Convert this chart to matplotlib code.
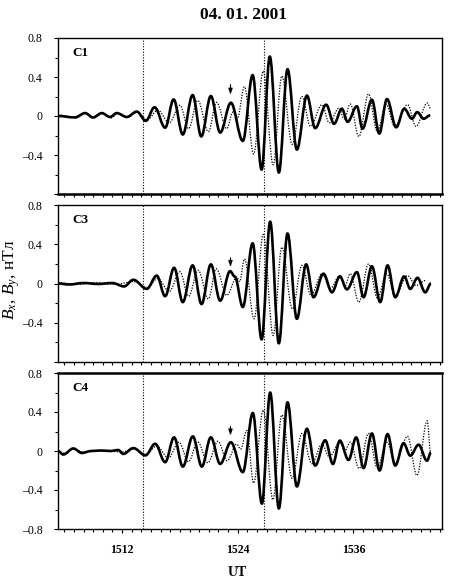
import numpy as np
import matplotlib
matplotlib.use("Agg")
import matplotlib.pyplot as plt
from matplotlib.path import Path
from matplotlib.patches import PathPatch

plt.rcParams['font.family'] = ['Liberation Serif', 'DejaVu Serif']
plt.rcParams['mathtext.fontset'] = 'custom'
plt.rcParams['mathtext.rm'] = 'Liberation Serif'
plt.rcParams['mathtext.it'] = 'Liberation Serif:italic'

# ---- data: turning points (UT as HHMM-style minutes, nT) ----
c1_t_x = [1505.35, 1507.12, 1508.16, 1508.99, 1509.89, 1510.75, 1511.45, 1512.49, 1513.53, 1514.46,
          1515.37, 1516.47, 1517.35, 1518.30, 1519.32, 1520.22, 1521.21, 1522.18, 1523.29, 1524.53,
          1525.55, 1526.48, 1527.33, 1528.27, 1529.17, 1530.14, 1531.18, 1532.04, 1533.18, 1534.00,
          1534.81, 1535.40, 1536.37, 1536.95, 1537.93, 1538.69, 1539.49, 1540.45, 1541.28, 1542.08,
          1542.63, 1543.29, 1543.98]
c1_bx = [0.00, -0.015, 0.03, -0.015, 0.03, -0.01, 0.03, -0.01, 0.045, -0.05,
         0.09, -0.12, 0.17, -0.19, 0.215, -0.21, 0.205, -0.17, 0.136, -0.256,
         0.42, -0.55, 0.61, -0.58, 0.48, -0.345, 0.21, -0.125, 0.116, -0.08,
         0.075, -0.06, 0.10, -0.13, 0.167, -0.18, 0.174, -0.116, 0.075, -0.028,
         0.04, -0.028, 0.007]
c1_t_y = [1505.35, 1507.0, 1508.1, 1509.0, 1510.0, 1510.8, 1511.6, 1512.5, 1513.6, 1514.6,
          1515.7, 1516.9, 1518.0, 1518.9, 1519.85, 1520.96, 1521.8, 1522.87, 1523.5, 1523.95,
          1524.7, 1525.65, 1526.65, 1527.68, 1528.58, 1529.65, 1530.66, 1531.55, 1532.74, 1533.5,
          1534.5, 1535.05, 1535.68, 1536.57, 1537.58, 1538.47, 1539.4, 1540.3, 1541.62, 1542.5,
          1543.67, 1544.0]
c1_by = [0.01, -0.01, 0.03, -0.02, 0.025, -0.02, 0.025, -0.015, 0.04, -0.04,
         0.06, -0.07, 0.11, -0.13, 0.16, -0.16, 0.14, -0.13, 0.04, -0.03,
         0.30, -0.39, 0.46, -0.50, 0.41, -0.29, 0.20, -0.105, 0.116, -0.07,
         0.08, -0.03, 0.123, -0.21, 0.226, -0.157, 0.12, -0.11, 0.116, -0.106,
         0.133, 0.08]

c3_t_x = [1505.35, 1506.5, 1508.0, 1509.5, 1511.0, 1512.2, 1513.17, 1514.56, 1515.6, 1516.47,
          1517.40, 1518.30, 1519.32, 1520.25, 1521.21, 1522.18, 1523.21, 1523.7, 1524.53, 1525.55,
          1526.48, 1527.37, 1528.27, 1529.17, 1530.14, 1531.10, 1531.87, 1532.90, 1533.78, 1534.60,
          1535.33, 1536.37, 1537.06, 1537.93, 1538.79, 1539.55, 1540.35, 1541.28, 1541.91, 1542.66,
          1543.46, 1544.06]
c3_bx = [0.0, -0.01, 0.005, -0.005, 0.005, -0.03, 0.038, -0.055, 0.08, -0.13,
         0.16, -0.19, 0.185, -0.21, 0.195, -0.175, 0.126, 0.07, -0.24, 0.41,
         -0.57, 0.63, -0.61, 0.51, -0.36, 0.195, -0.14, 0.10, -0.09, 0.072,
         -0.06, 0.116, -0.14, 0.175, -0.19, 0.185, -0.14, 0.072, -0.055, 0.058,
         -0.09, 0.0]
c3_t_y = [1505.35, 1507.3, 1509.3, 1511.3, 1513.2, 1514.6, 1515.7, 1516.9, 1518.0, 1518.9,
          1519.9, 1520.96, 1521.77, 1522.87, 1523.9, 1524.2, 1524.7, 1525.7, 1526.65, 1527.68,
          1528.58, 1529.68, 1530.66, 1531.6, 1532.74, 1533.6, 1534.6, 1535.1, 1535.68, 1536.57,
          1537.58, 1538.5, 1539.45, 1540.35, 1541.62, 1542.5, 1543.5]
c3_by = [0.01, -0.01, 0.01, -0.01, 0.02, -0.04, 0.05, -0.08, 0.12, -0.13,
         0.135, -0.157, 0.15, -0.12, 0.065, 0.02, 0.25, -0.36, 0.50, -0.53,
         0.37, -0.26, 0.185, -0.12, 0.10, -0.05, 0.08, -0.03, 0.10, -0.19,
         0.20, -0.15, 0.10, -0.12, 0.08, -0.02, 0.03]

c4_t_x = [1505.35, 1505.9, 1506.94, 1507.82, 1508.8, 1509.8, 1510.8, 1511.6, 1512.13, 1513.17,
          1514.43, 1515.43, 1516.47, 1517.40, 1518.30, 1519.34, 1520.28, 1521.21, 1522.18, 1523.29,
          1524.53, 1525.57, 1526.51, 1527.37, 1528.27, 1529.17, 1530.14, 1531.18, 1532.04, 1533.08,
          1533.88, 1534.60, 1535.50, 1536.30, 1537.06, 1537.93, 1538.72, 1539.55, 1540.35, 1541.21,
          1541.91, 1542.77, 1543.64, 1544.06]
c4_bx = [0.0, -0.036, 0.026, -0.02, 0.0, 0.005, 0.0, 0.01, -0.03, 0.03,
         -0.045, 0.074, -0.115, 0.14, -0.16, 0.15, -0.16, 0.14, -0.133, 0.09,
         -0.217, 0.39, -0.54, 0.60, -0.59, 0.50, -0.364, 0.228, -0.15, 0.11,
         -0.133, 0.107, -0.092, 0.14, -0.175, 0.18, -0.20, 0.174, -0.15, 0.08,
         -0.048, 0.065, -0.10, -0.014]
c4_t_y = [1505.35, 1506.0, 1507.0, 1508.0, 1510.0, 1512.0, 1513.2, 1514.5, 1515.6, 1516.8,
          1517.9, 1518.9, 1519.85, 1520.9, 1521.95, 1522.9, 1523.9, 1524.3, 1524.95, 1525.65,
          1526.65, 1527.65, 1528.58, 1529.65, 1530.66, 1531.7, 1532.74, 1533.5, 1534.6, 1535.1,
          1535.68, 1536.6, 1537.58, 1538.47, 1539.49, 1540.35, 1541.62, 1542.6, 1543.67, 1544.0]
c4_by = [-0.01, -0.02, 0.02, -0.01, 0.005, -0.01, 0.02, -0.03, 0.05, -0.07,
         0.09, -0.11, 0.094, -0.12, 0.10, -0.10, 0.07, 0.02, 0.21, -0.33,
         0.42, -0.50, 0.37, -0.28, 0.18, -0.13, 0.07, -0.06, 0.09, 0.0,
         0.09, -0.18, 0.18, -0.17, 0.09, -0.13, 0.15, -0.25, 0.31, 0.0]

sat_names = ["C1", "C3", "C4"]
t_bx = [c1_t_x, c3_t_x, c4_t_x]
bx = [c1_bx, c3_bx, c4_bx]
t_by = [c1_t_y, c3_t_y, c4_t_y]
by = [c1_by, c3_by, c4_by]
marker_lines = [1514.18, 1526.75]
arrow_t = 1523.25
arrow_y = [(0.35, 0.19), (0.29, 0.14), (0.28, 0.13)]


def wave_path(t, v, k=0.36):
    # cubic bezier through the turning points, flat tangent at each one
    verts = [(t[0], v[0])]
    codes = [Path.MOVETO]
    for a in range(len(t) - 1):
        dt = t[a + 1] - t[a]
        verts += [(t[a] + k * dt, v[a]), (t[a + 1] - k * dt, v[a + 1]), (t[a + 1], v[a + 1])]
        codes += [Path.CURVE4] * 3
    return Path(verts, codes)


W, H = 449, 584
fig = plt.figure(figsize=(W / 100, H / 100), dpi=100)

left = 58 / W
width = 384 / W
tops = [38, 205, 373]
heights = [156, 157, 156]

axes = []
for i in range(3):
    ax = fig.add_axes([left, 1 - (tops[i] + heights[i]) / H, width, heights[i] / H])
    axes.append(ax)
    ax.add_patch(PathPatch(wave_path(t_by[i], by[i]), fill=False, ec="black",
                           lw=0.9, ls=(0, (1, 1.2))))
    ax.add_patch(PathPatch(wave_path(t_bx[i], bx[i]), fill=False, ec="black",
                           lw=1.9, joinstyle="round"))
    for m in marker_lines:
        ax.axvline(m, color="black", lw=0.8, ls=(0, (1, 1.5)))
    ax.set_xlim(1505.35, 1545.2)
    ax.set_ylim(-0.8, 0.8)
    ax.set_xticks([1512, 1524, 1536])
    ax.set_xticks(np.arange(1506, 1546, 1), minor=True)
    ax.set_yticks([-0.8, -0.4, 0, 0.4, 0.8])
    ax.set_yticks(np.arange(-0.8, 0.81, 0.2), minor=True)
    ylabels = ["\u20130.8", "\u20130.4", "0", "0.4", "0.8"]
    if i < 2:
        ylabels[0] = ""
    ax.set_yticklabels(ylabels)
    ax.tick_params(axis="both", which="major", direction="out", length=3, width=0.8,
                   labelsize=8.5)
    ax.tick_params(axis="y", pad=8)
    ax.tick_params(axis="x", pad=8)
    ax.tick_params(axis="both", which="minor", direction="out", length=2, width=0.8)
    for s in ax.spines.values():
        s.set_linewidth(1.0)
    if i < 2:
        ax.set_xticklabels([])
    else:
        for lab in ax.get_xticklabels():
            lab.set_fontweight("bold")
    ax.text(0.038, 0.905, sat_names[i], transform=ax.transAxes, fontsize=9.5,
            fontweight="bold", va="center", ha="left")
    ax.annotate("", xy=(arrow_t, arrow_y[i][1]), xytext=(arrow_t, arrow_y[i][0]),
                arrowprops=dict(arrowstyle="-|>,head_length=0.35,head_width=0.12",
                                color="black", lw=0.8))

axes[0].spines["bottom"].set_linewidth(1.8)
axes[2].spines["top"].set_linewidth(1.8)

fig.text(243 / W, 1 - 15 / H, "04. 01. 2001", ha="center", va="center",
         fontsize=12.5, fontweight="bold")
fig.text(237 / W, 1 - 573 / H, "UT", ha="center", va="center",
         fontsize=10, fontweight="bold")
fig.text(12 / W, 1 - 280 / H, "$B_x$, $B_y$, нТл", rotation=90, ha="center",
         va="center", fontsize=12.5)

fig.savefig("out.png", dpi=100)
